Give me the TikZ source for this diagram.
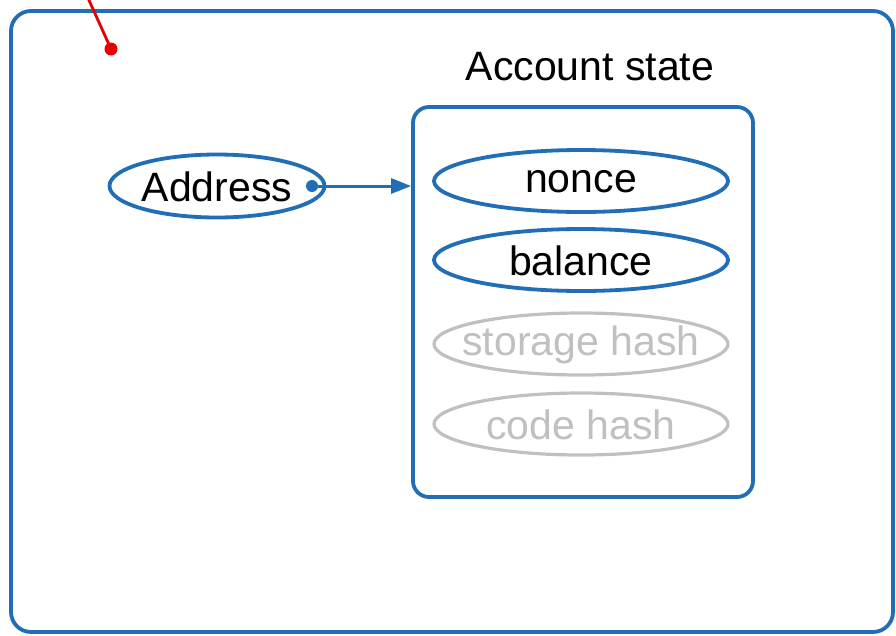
\documentclass[tikz,border=0pt]{standalone}
\usepackage{fontspec}
\setmainfont{Liberation Sans}
\usetikzlibrary{shapes.geometric,arrows.meta}
\definecolor{stateblue}{RGB}{33,110,182}
\definecolor{fadegray}{RGB}{192,192,192}
\definecolor{pinred}{RGB}{230,0,0}
\tikzset{
  frame/.style={draw=stateblue, line width=3.8pt, rounded corners=20pt},
  bigtext/.style={font=\fontsize{41}{46}\selectfont},
  field/.style={ellipse, draw=stateblue, line width=3.8pt, fill=white,
    minimum width=294pt, minimum height=62pt, inner sep=0pt,
    label={[bigtext, text=black, yshift=-1pt]center:#1}},
  faded/.style={ellipse, draw=fadegray, line width=3.2pt, fill=white,
    minimum width=294pt, minimum height=62pt, inner sep=0pt,
    label={[bigtext, text=fadegray, yshift=-1pt]center:#1}},
  link/.style={draw=stateblue, line width=3pt, -{Triangle[length=20pt,width=15pt]}},
}
\begin{document}
\begin{tikzpicture}[x=1pt,y=-1pt]
  \useasboundingbox (0,0) rectangle (896,635);
  % outer container
  \draw[frame] (11,11) rectangle (893,632);
  % pin marker
  \coordinate (pintop) at (88,-2);
  \coordinate (pin) at (111,49);
  \draw[pinred, line width=2.8pt] (pintop) -- (pin);
  \fill[pinred] (pin) circle (6.5);
  % account state box
  \node[bigtext] (title) at (590,67) {Account state};
  \node[frame, rounded corners=16pt, minimum width=340pt, minimum height=390pt, inner sep=0pt] (state) at (583,302) {};
  % fields
  \node[field=nonce] (nonce) at (581,181) {};
  \node[field=balance] (balance) at (581,260) {};
  \node[faded=storage hash] (storage) at (581,344) {};
  \node[faded=code hash] (code) at (581,424) {};
  % address and its link
  \node[field=Address, minimum width=215pt, minimum height=63pt] (addr) at (217,186) {};
  \coordinate (dot) at (312,186);
  \fill[stateblue] (dot) circle (6);
  \draw[link] (dot) -- (state.west |- dot);
\end{tikzpicture}
\end{document}
